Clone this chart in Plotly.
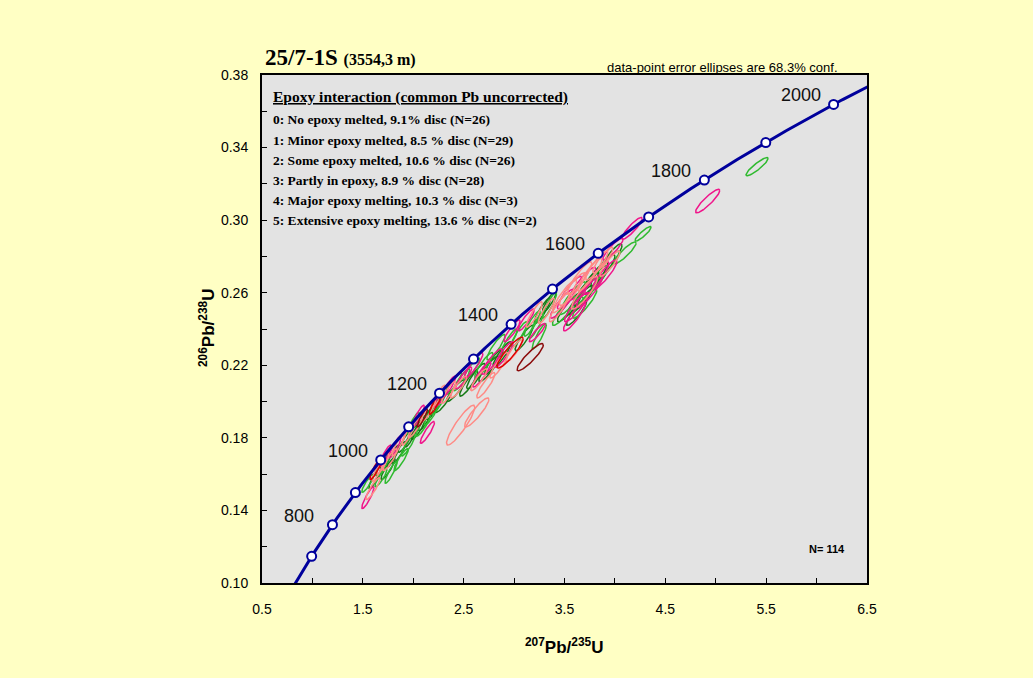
import numpy as np
import plotly.graph_objects as go

# Decay constants (per year)
L238 = 1.55125e-10
L235 = 9.8485e-10

# Concordia age marks (Ma) and the ones that get a label
AGE_MARKS = [700, 800, 900, 1000, 1100, 1200, 1300, 1400, 1500, 1600, 1700, 1800, 1900, 2000]
AGE_LABELS = [800, 1000, 1200, 1400, 1600, 1800, 2000]

# Error ellipses per epoxy-interaction class: (207Pb/235U, 206Pb/238U, half-width x, half-height y)
NO_EPOXY = [
    (1.62, 0.158, 0.06, 0.006), (1.75, 0.163, 0.07, 0.006), (1.80, 0.170, 0.06, 0.006),
    (1.86, 0.172, 0.07, 0.006), (1.92, 0.178, 0.07, 0.006), (1.98, 0.181, 0.06, 0.006),
    (2.05, 0.185, 0.07, 0.006), (2.12, 0.190, 0.07, 0.006), (2.20, 0.196, 0.07, 0.006),
    (2.30, 0.200, 0.08, 0.006), (2.42, 0.206, 0.09, 0.006), (2.55, 0.210, 0.09, 0.007),
    (2.62, 0.214, 0.09, 0.007), (2.75, 0.218, 0.10, 0.007), (2.80, 0.222, 0.09, 0.007),
    (2.88, 0.226, 0.09, 0.007), (3.10, 0.235, 0.09, 0.007), (3.28, 0.250, 0.08, 0.007),
    (3.35, 0.255, 0.07, 0.006), (3.55, 0.252, 0.12, 0.008), (3.66, 0.256, 0.13, 0.008),
    (3.72, 0.262, 0.13, 0.009), (3.80, 0.268, 0.13, 0.009), (3.88, 0.272, 0.12, 0.009),
    (3.95, 0.278, 0.12, 0.009), (3.62, 0.249, 0.10, 0.007),
]
MINOR_EPOXY = [
    (1.55, 0.155, 0.06, 0.005), (1.68, 0.158, 0.06, 0.005), (1.70, 0.165, 0.07, 0.006),
    (1.78, 0.161, 0.06, 0.006), (1.88, 0.168, 0.07, 0.006), (1.95, 0.176, 0.07, 0.006),
    (2.00, 0.188, 0.06, 0.006), (2.10, 0.187, 0.07, 0.006), (2.18, 0.193, 0.07, 0.006),
    (2.25, 0.199, 0.07, 0.006), (2.40, 0.210, 0.08, 0.006), (2.48, 0.212, 0.08, 0.006),
    (2.58, 0.218, 0.08, 0.006), (2.70, 0.220, 0.09, 0.007), (2.82, 0.230, 0.09, 0.007),
    (2.95, 0.233, 0.08, 0.007), (3.05, 0.237, 0.08, 0.007), (3.18, 0.243, 0.08, 0.007),
    (3.22, 0.242, 0.07, 0.007), (3.35, 0.253, 0.07, 0.007), (3.25, 0.236, 0.07, 0.007),
    (3.50, 0.250, 0.12, 0.008), (3.58, 0.257, 0.13, 0.009), (3.70, 0.254, 0.12, 0.008),
    (3.80, 0.266, 0.13, 0.009), (3.92, 0.275, 0.13, 0.008), (4.10, 0.282, 0.11, 0.006),
    (4.28, 0.2925, 0.08, 0.004), (5.41, 0.3295, 0.11, 0.005),
]
SOME_EPOXY = [
    (1.55, 0.147, 0.06, 0.006), (1.72, 0.170, 0.06, 0.006), (1.82, 0.175, 0.06, 0.006),
    (2.14, 0.183, 0.07, 0.006), (2.05, 0.192, 0.06, 0.006), (2.28, 0.203, 0.07, 0.006),
    (2.35, 0.208, 0.07, 0.006), (2.50, 0.213, 0.08, 0.006), (2.60, 0.220, 0.09, 0.007),
    (2.68, 0.215, 0.09, 0.007), (2.78, 0.222, 0.10, 0.007), (2.90, 0.226, 0.09, 0.007),
    (2.98, 0.239, 0.08, 0.006), (3.23, 0.238, 0.08, 0.005), (3.12, 0.245, 0.08, 0.006),
    (3.48, 0.254, 0.12, 0.008), (3.55, 0.260, 0.12, 0.009), (3.62, 0.252, 0.12, 0.008),
    (3.68, 0.265, 0.13, 0.009), (3.75, 0.261, 0.13, 0.009), (3.82, 0.268, 0.12, 0.009),
    (3.90, 0.270, 0.12, 0.008), (3.98, 0.284, 0.10, 0.006), (4.17, 0.2955, 0.10, 0.006),
    (4.92, 0.3105, 0.12, 0.0065), (3.60, 0.247, 0.11, 0.008),
]
PARTLY_EPOXY = [
    (1.60, 0.152, 0.07, 0.006), (1.65, 0.162, 0.06, 0.006), (1.77, 0.168, 0.07, 0.006),
    (1.85, 0.176, 0.06, 0.006), (1.95, 0.182, 0.06, 0.006), (2.02, 0.186, 0.07, 0.006),
    (2.15, 0.195, 0.07, 0.006), (2.25, 0.203, 0.07, 0.006), (2.47, 0.187, 0.14, 0.011),
    (2.63, 0.194, 0.12, 0.008), (2.45, 0.208, 0.08, 0.006), (2.65, 0.212, 0.08, 0.006),
    (2.72, 0.209, 0.09, 0.007), (2.85, 0.220, 0.09, 0.007), (3.00, 0.228, 0.08, 0.006),
    (3.20, 0.248, 0.08, 0.007), (3.32, 0.250, 0.08, 0.007), (3.50, 0.258, 0.12, 0.009),
    (3.58, 0.262, 0.13, 0.009), (3.65, 0.268, 0.12, 0.009), (3.75, 0.270, 0.12, 0.009),
    (3.82, 0.275, 0.11, 0.008), (3.70, 0.260, 0.13, 0.009), (3.88, 0.278, 0.10, 0.007),
    (3.45, 0.252, 0.10, 0.008), (3.95, 0.276, 0.10, 0.007), (2.35, 0.205, 0.07, 0.006),
    (1.70, 0.166, 0.06, 0.006),
]
MAJOR_MELT = [
    (2.96, 0.227, 0.13, 0.0085), (1.63, 0.163, 0.06, 0.006), (2.22, 0.199, 0.06, 0.006),
]
EXTENSIVE_MELT = [
    (3.16, 0.2245, 0.13, 0.0075), (2.09, 0.191, 0.05, 0.005),
]

GROUPS = [
    ("0: No epoxy melted, 9.1% disc (N=26)", NO_EPOXY, "#157a15"),
    ("1: Minor epoxy melted, 8.5 % disc (N=29)", MINOR_EPOXY, "#2fba2f"),
    ("2: Some epoxy melted, 10.6 % disc (N=26)", SOME_EPOXY, "#f0148a"),
    ("3: Partly in epoxy, 8.9 % disc (N=28)", PARTLY_EPOXY, "#ff8a85"),
    ("4: Major epoxy melting, 10.3 % disc (N=3)", MAJOR_MELT, "#dd0000"),
    ("5: Extensive epoxy melting, 13.6 % disc (N=2)", EXTENSIVE_MELT, "#8b0a0a"),
]
RHO = 0.9

PAGE_BG = "#ffffc4"
PLOT_BG = "#e3e3e3"
CURVE = "#00009c"


def concordia(age_ma):
    t = np.asarray(age_ma, dtype=float) * 1e6
    return np.expm1(L235 * t), np.expm1(L238 * t)


def ellipse_path(cx, cy, dx, dy, rho, n=72):
    th = np.linspace(0, 2 * np.pi, n)
    xs = cx + dx * np.cos(th)
    ys = cy + dy * (rho * np.cos(th) + np.sqrt(1 - rho ** 2) * np.sin(th))
    return list(xs) + [None], list(ys) + [None]


fig = go.Figure()

for name, rows, color in GROUPS:
    xs, ys = [], []
    for cx, cy, dx, dy in rows:
        ex, ey = ellipse_path(cx, cy, dx, dy, RHO)
        xs += ex
        ys += ey
    fig.add_trace(go.Scatter(x=xs, y=ys, mode="lines", name=name,
                             line=dict(color=color, width=1.5), hoverinfo="skip"))

# Concordia curve
ages = np.linspace(600, 2150, 400)
cx, cy = concordia(ages)
fig.add_trace(go.Scatter(x=cx, y=cy, mode="lines", line=dict(color=CURVE, width=3),
                         hoverinfo="skip"))
mx, my = concordia(AGE_MARKS)
fig.add_trace(go.Scatter(x=mx, y=my, mode="markers",
                         marker=dict(size=9, color="white", line=dict(color=CURVE, width=2)),
                         hoverinfo="skip"))

annotations = []
lx, ly = concordia(AGE_LABELS)
for a, x, y in zip(AGE_LABELS, lx, ly):
    annotations.append(dict(x=x, y=y, xref="x", yref="y", text=str(a), showarrow=False,
                            xshift=-33, yshift=9,
                            font=dict(family="Liberation Sans, Arial", size=18, color="#111")))

# Plot-area pixel frame used for placing text
L, R, T, B = 262, 867, 75, 583


def px(x):
    return (x - L) / (R - L)


def py(y):
    return (B - y) / (B - T)


serif = "Liberation Serif, Times New Roman"
sans = "Liberation Sans, Arial"

annotations.append(dict(x=px(263), y=py(57), xref="paper", yref="paper", xanchor="left",
                        yanchor="middle", showarrow=False,
                        text="<b>25/7-1S</b> <b><span style='font-size:16px'>(3554,3 m)</span></b>",
                        font=dict(family=serif, size=23, color="black")))
annotations.append(dict(x=px(722), y=py(67), xref="paper", yref="paper", xanchor="center",
                        yanchor="middle", showarrow=False,
                        text="data-point error ellipses are 68.3% conf.",
                        font=dict(family=sans, size=13, color="black")))
annotations.append(dict(x=px(271), y=py(97), xref="paper", yref="paper", xanchor="left",
                        yanchor="middle", showarrow=False,
                        text="<b><u>Epoxy interaction (common Pb uncorrected)</u></b>",
                        font=dict(family=serif, size=15.5, color="black")))
for i, (name, _, _) in enumerate(GROUPS):
    annotations.append(dict(x=px(271), y=py(120 + 20 * i), xref="paper", yref="paper",
                            xanchor="left", yanchor="middle", showarrow=False,
                            text="<b>" + name + "</b>",
                            font=dict(family=serif, size=13.5, color="black")))
annotations.append(dict(x=px(827), y=py(549), xref="paper", yref="paper", xanchor="center",
                        yanchor="middle", showarrow=False, text="<b>N= 114</b>",
                        font=dict(family=sans, size=11, color="black")))
annotations.append(dict(x=px(564), y=py(646), xref="paper", yref="paper", xanchor="center",
                        yanchor="middle", showarrow=False,
                        text="<b><sup>207</sup>Pb/<sup>235</sup>U</b>",
                        font=dict(family=sans, size=17, color="black")))
annotations.append(dict(x=px(207), y=py(328), xref="paper", yref="paper", xanchor="center",
                        yanchor="middle", showarrow=False, textangle=-90,
                        text="<b><sup>206</sup>Pb/<sup>238</sup>U</b>",
                        font=dict(family=sans, size=17, color="black")))

x_ticks = [0.5 + 0.5 * i for i in range(13)]
y_ticks = [round(0.10 + 0.02 * i, 2) for i in range(15)]

fig.update_layout(
    width=1033, height=678,
    paper_bgcolor=PAGE_BG, plot_bgcolor=PLOT_BG,
    margin=dict(l=L, r=1033 - R, t=T, b=678 - B),
    showlegend=False,
    annotations=annotations,
    xaxis=dict(range=[0.5, 6.5], tickmode="array", tickvals=x_ticks,
               ticktext=[f"{v:.1f}" if i % 2 == 0 else "" for i, v in enumerate(x_ticks)],
               ticks="inside", ticklen=5, tickcolor="black", showgrid=False, zeroline=False,
               showline=True, linecolor="black", linewidth=2, mirror=True,
               ticklabelstandoff=12,
               tickfont=dict(family=sans, size=14, color="black")),
    yaxis=dict(range=[0.10, 0.38], tickmode="array", tickvals=y_ticks,
               ticktext=[f"{v:.2f}" if i % 2 == 0 else "" for i, v in enumerate(y_ticks)],
               ticks="inside", ticklen=5, tickcolor="black", showgrid=False, zeroline=False,
               showline=True, linecolor="black", linewidth=2, mirror=True,
               ticklabelstandoff=9,
               tickfont=dict(family=sans, size=14, color="black")),
)

fig.write_html("out.html")
